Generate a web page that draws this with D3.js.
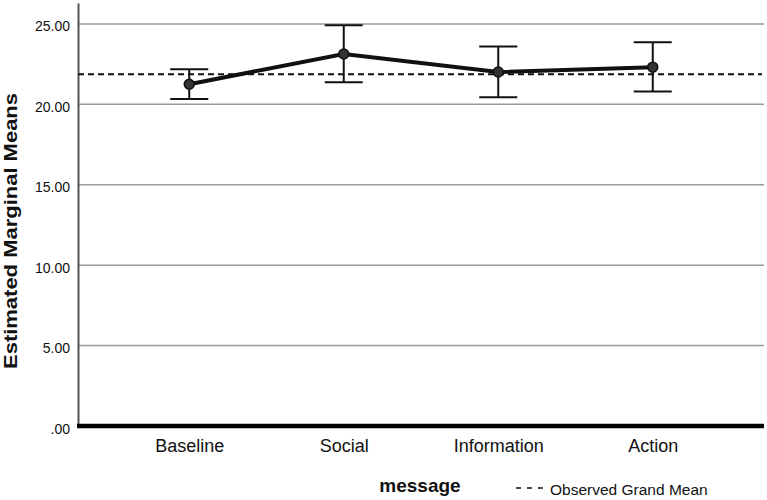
<!DOCTYPE html>
<html>
<head>
<meta charset="utf-8">
<script src="https://cdn.jsdelivr.net/npm/d3@7"></script>
<style>
  body { margin: 0; background: #fff; }
  svg { display: block; font-family: "Liberation Sans", Arial, sans-serif; }
</style>
</head>
<body>
<div id="chart"></div>
<script>
  // data
  var categories = ["Baseline", "Social", "Information", "Action"]
  var means = [21.25, 23.13, 22.01, 22.31]
  var lower = [20.33, 21.37, 20.44, 20.79]
  var upper = [22.18, 24.92, 23.59, 23.86]
  var grandMean = 21.87
  var yTicks = [0, 5, 10, 15, 20, 25]

  var width = 767
  var height = 500
  // plot edges (not "top": that name is taken by window.top)
  var plotLeft = 78, plotRight = 764, plotTop = 3, plotBottom = 426

  var svg = d3.select("#chart")
    .append("svg")
    .attr("width", width)
    .attr("height", height)

  var x = d3.scalePoint()
    .domain(categories)
    .range([plotLeft, plotRight])
    .padding(0.72)

  var y = d3.scaleLinear()
    .domain([0, 26.3])
    .range([plotBottom, plotTop])

  // gridlines
  svg.append("g")
    .selectAll("line")
    .data(yTicks.filter(function (d) { return d > 0 }))
    .enter()
    .append("line")
    .attr("x1", plotLeft)
    .attr("x2", plotRight)
    .attr("y1", function (d) { return y(d) })
    .attr("y2", function (d) { return y(d) })
    .attr("stroke", "#9a9a9a")
    .attr("stroke-width", 1.5)

  // y axis
  var yAxis = svg.append("g")
    .attr("transform", "translate(" + plotLeft + ",0)")
    .call(d3.axisLeft(y).tickValues(yTicks).tickSize(0).tickPadding(8)
      .tickFormat(function (d) { return d === 0 ? ".00" : d3.format(".2f")(d) }))
  yAxis.select(".domain").attr("stroke", "#555").attr("stroke-width", 2)
  yAxis.selectAll("text")
    .attr("font-size", 14)
    .attr("dy", "0.5em")
    .attr("fill", "#111")
    .style("font-family", "Liberation Sans, Arial, sans-serif")

  // x axis
  var xAxis = svg.append("g")
    .attr("transform", "translate(0," + plotBottom + ")")
    .call(d3.axisBottom(x).tickSize(0).tickPadding(13))
  xAxis.select(".domain").remove()
  xAxis.selectAll("text")
    .attr("font-size", 18)
    .attr("fill", "#111")
    .style("font-family", "Liberation Sans, Arial, sans-serif")

  svg.append("line")
    .attr("x1", plotLeft - 1)
    .attr("x2", plotRight)
    .attr("y1", plotBottom)
    .attr("y2", plotBottom)
    .attr("stroke", "#000")
    .attr("stroke-width", 4.5)

  // grand mean
  svg.append("line")
    .attr("x1", plotLeft)
    .attr("x2", plotRight - 2)
    .attr("y1", y(grandMean))
    .attr("y2", y(grandMean))
    .attr("stroke", "#111")
    .attr("stroke-width", 2)
    .attr("stroke-dasharray", "6,4")

  // error bars
  var eb = svg.append("g")
    .selectAll("g")
    .data(categories)
    .enter()
    .append("g")
    .attr("stroke", "#111")
    .attr("stroke-width", 2)
  eb.append("line")
    .attr("x1", function (d) { return x(d) })
    .attr("x2", function (d) { return x(d) })
    .attr("y1", function (d, i) { return y(lower[i]) })
    .attr("y2", function (d, i) { return y(upper[i]) })
  eb.append("line")
    .attr("x1", function (d) { return x(d) - 19 })
    .attr("x2", function (d) { return x(d) + 19 })
    .attr("y1", function (d, i) { return y(lower[i]) })
    .attr("y2", function (d, i) { return y(lower[i]) })
  eb.append("line")
    .attr("x1", function (d) { return x(d) - 19 })
    .attr("x2", function (d) { return x(d) + 19 })
    .attr("y1", function (d, i) { return y(upper[i]) })
    .attr("y2", function (d, i) { return y(upper[i]) })

  // mean line
  svg.append("path")
    .datum(categories)
    .attr("fill", "none")
    .attr("stroke", "#111")
    .attr("stroke-width", 4)
    .attr("d", d3.line()
      .x(function (d) { return x(d) })
      .y(function (d, i) { return y(means[i]) }))

  svg.append("g")
    .selectAll("circle")
    .data(categories)
    .enter()
    .append("circle")
    .attr("cx", function (d) { return x(d) })
    .attr("cy", function (d, i) { return y(means[i]) })
    .attr("r", 5)
    .attr("fill", "#333")
    .attr("stroke", "#111")
    .attr("stroke-width", 1.5)

  // titles
  svg.append("text")
    .attr("transform", "translate(17,231) rotate(-90)")
    .attr("text-anchor", "middle")
    .attr("font-size", 19)
    .attr("font-weight", "bold")
    .attr("fill", "#111")
    .attr("textLength", 276)
    .attr("lengthAdjust", "spacingAndGlyphs")
    .text("Estimated Marginal Means")

  svg.append("text")
    .attr("x", 420)
    .attr("y", 492)
    .attr("text-anchor", "middle")
    .attr("font-size", 19)
    .attr("font-weight", "bold")
    .attr("fill", "#111")
    .text("message")

  // legend
  svg.append("line")
    .attr("x1", 516)
    .attr("x2", 546)
    .attr("y1", 488)
    .attr("y2", 488)
    .attr("stroke", "#111")
    .attr("stroke-width", 1.5)
    .attr("stroke-dasharray", "5,6")
  svg.append("text")
    .attr("x", 550)
    .attr("y", 495)
    .attr("font-size", 15.5)
    .attr("fill", "#111")
    .text("Observed Grand Mean")
</script>
</body>
</html>
